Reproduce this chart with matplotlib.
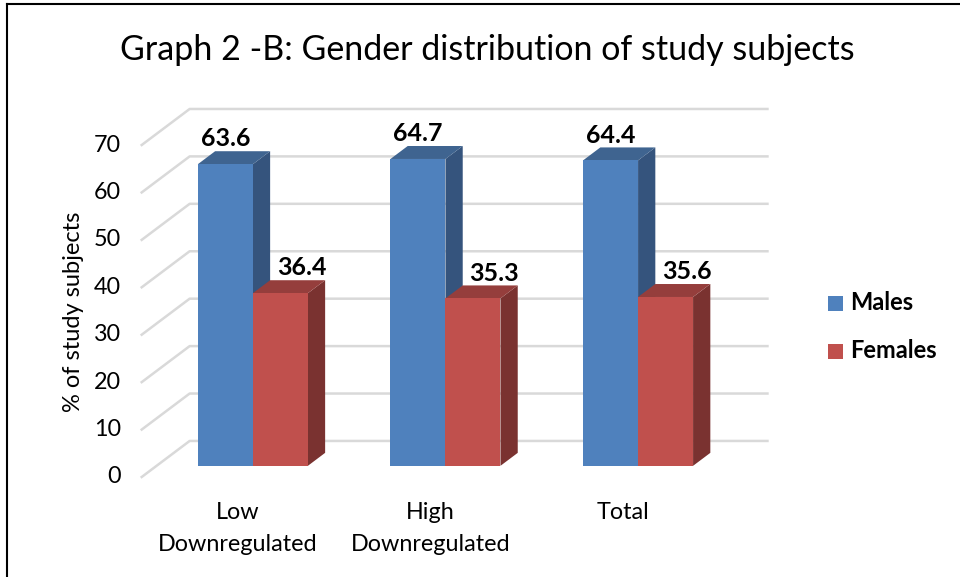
import matplotlib.pyplot as plt
from matplotlib.patches import Polygon, Rectangle
from matplotlib.lines import Line2D

plt.rcParams['font.family'] = ['Lato', 'DejaVu Sans']

categories = ['Low\nDownregulated', 'High\nDownregulated', 'Total']
series = ['Males', 'Females']
males = [63.6, 64.7, 64.4]
females = [36.4, 35.3, 35.6]
yticks = [0, 10, 20, 30, 40, 50, 60, 70]

front_colors = ['#4F81BD', '#C0504D']
side_colors = ['#35547D', '#7A3230']
top_colors = ['#3F6490', '#953E3C']
grid_color = '#D9D9D9'

# depth of the pseudo-3D box, in data units
DX = 0.249
DY = 7.6
BAR_D0, BAR_D1 = 0.31, 0.67
BAR_W = 0.2856


def shift(x, y, d):
    return (x + d * DX, y + d * DY)


fig = plt.figure(figsize=(9.6, 5.77), dpi=100)
ax = fig.add_axes([100 / 960, 77 / 577, 700 / 960, 410 / 577])
ax.set_xlim(-0.7165, 2.918)
ax.set_ylim(-4.85, 81.6)
ax.axis('off')

# back wall grid and the slanted side-wall lines
x_left, x_right = -0.5, 2.5
for v in yticks:
    fx, fy = x_left, v
    bx, by = shift(x_left, v, 1)
    ex, _ = shift(x_right, v, 1)
    ax.plot([fx, bx, ex], [fy, by, by], color=grid_color, lw=1.8, zorder=1)
    ax.annotate(str(v), (fx, fy), xytext=(-15, 0), textcoords='offset points',
                ha='right', va='center', fontsize=16.8)

# bars with front, top and side faces
values = [males, females]
for s in range(2):
    for i, val in enumerate(values[s]):
        x0 = i + (s - 1) * BAR_W
        x1 = x0 + BAR_W
        p0 = shift(x0, 0, BAR_D0)
        p1 = shift(x1, 0, BAR_D0)
        t0 = shift(x0, val, BAR_D0)
        t1 = shift(x1, val, BAR_D0)
        t0b = shift(x0, val, BAR_D1)
        t1b = shift(x1, val, BAR_D1)
        b1b = shift(x1, 0, BAR_D1)
        ax.add_patch(Polygon([p1, b1b, t1b, t1], closed=True,
                             facecolor=side_colors[s], edgecolor='none', zorder=2 + s))
        ax.add_patch(Polygon([t0, t1, t1b, t0b], closed=True,
                             facecolor=top_colors[s], edgecolor='none', zorder=2 + s))
        ax.add_patch(Polygon([p0, p1, t1, t0], closed=True,
                             facecolor=front_colors[s], edgecolor='none', zorder=2 + s))
        if s == 0:
            lx = (x0 + x1) / 2 + BAR_D0 * DX
        else:
            lx = (x0 + x1) / 2 + BAR_D1 * DX + 0.02
        ax.annotate(f'{val:.1f}', (lx, t0b[1]), xytext=(0, 3.5), textcoords='offset points',
                    ha='center', va='baseline', fontsize=18, fontweight='bold', zorder=5)

for i, cat in enumerate(categories):
    ax.annotate(cat, (i, 0), xytext=(0, -18), textcoords='offset points',
                ha='center', va='top', fontsize=16.8, linespacing=1.65)

fig.text(73 / 960, 1 - 312 / 577, '% of study subjects', rotation=90,
         ha='center', va='center', fontsize=17)
fig.text(487 / 960, 1 - 50 / 577, 'Graph 2 -B: Gender distribution of study subjects',
         ha='center', va='center', fontsize=24.5)

# legend
for s, name in enumerate(series):
    ycen = 303 + s * 48
    fig.patches.append(Rectangle((828 / 960, 1 - (ycen + 7.5) / 577), 15 / 960, 15 / 577,
                                 transform=fig.transFigure, facecolor=front_colors[s],
                                 edgecolor='none'))
    fig.text(850 / 960, 1 - ycen / 577, name, ha='left', va='center',
             fontsize=17, fontweight='bold')

# outer frame on top and left
fig.add_artist(Line2D([7 / 960, 7 / 960], [0, 1 - 4 / 577], transform=fig.transFigure,
                      color='black', lw=1.5))
fig.add_artist(Line2D([7 / 960, 1], [1 - 4 / 577, 1 - 4 / 577], transform=fig.transFigure,
                      color='black', lw=1.5))

fig.savefig('out.png', dpi=100)
